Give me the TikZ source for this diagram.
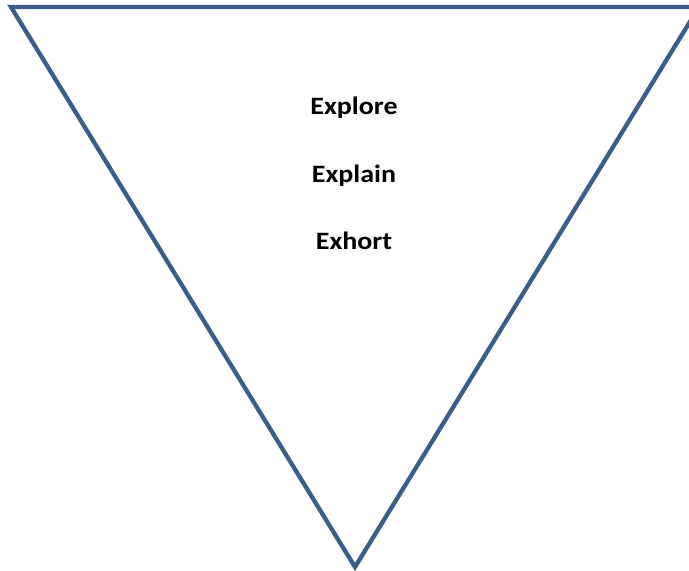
\documentclass[tikz,border=0pt]{standalone}
\usepackage{fontspec}
\setmainfont{Carlito}
\definecolor{triblue}{HTML}{3A5E8C}
\begin{document}
\begin{tikzpicture}[x=1pt,y=-1pt,
  tri/.style={draw=triblue,line width=4.3pt,line join=miter},
  lbl/.style={font=\fontsize{25}{30}\selectfont\bfseries,anchor=base,inner sep=0pt}]
\useasboundingbox (0,0) rectangle (689,571);
\coordinate (tl) at (11,7);
\coordinate (tr) at (699,7);
\coordinate (ap) at (355,567);
\draw[tri] (tl) -- (tr) -- (ap) -- cycle;
\node[lbl] (explore) at (354,114) {\scalebox{1.12}[1]{Explore}};
\node[lbl] (explain) at (354,182) {\scalebox{1.12}[1]{Explain}};
\node[lbl] (exhort) at (354,249) {\scalebox{1.12}[1]{Exhort}};
\end{tikzpicture}
\end{document}
